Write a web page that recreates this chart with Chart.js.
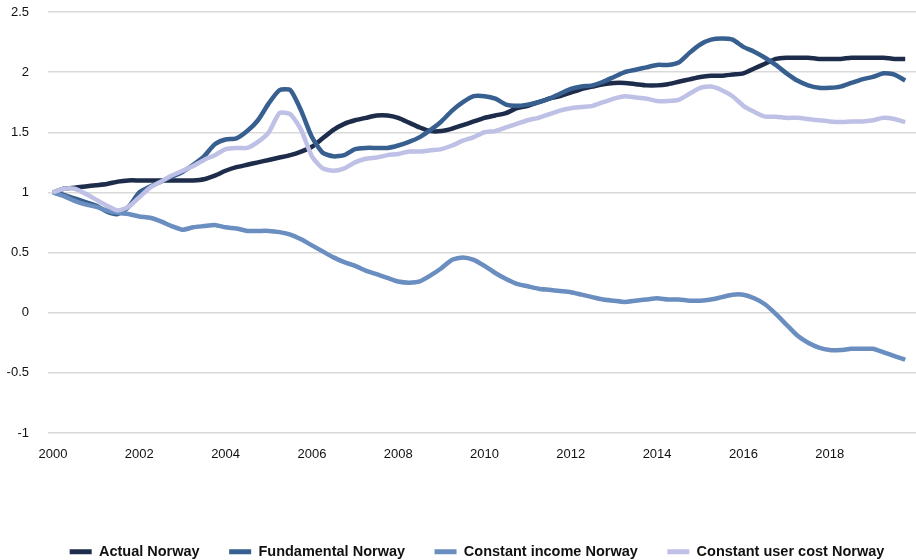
<!DOCTYPE html>
<html>
<head>
<meta charset="utf-8">
<script src="https://cdn.jsdelivr.net/npm/chart.js@4.4.1/dist/chart.umd.min.js"></script>
<style>
    html, body { margin: 0; padding: 0; background: #fff; }
    #wrap { width: 916px; height: 560px; }
</style>
</head>
<body>
<div id="wrap"><canvas id="housingChart" width="916" height="560"></canvas></div>
<script>
// Quarterly series, 2000Q1 - 2019Q4
const startYear = 2000;
const yearTicks = [2000, 2002, 2004, 2006, 2008, 2010, 2012, 2014, 2016, 2018];
const yTicks = [-1, -0.5, 0, 0.5, 1, 1.5, 2, 2.5];

const actualNorway = [
    1.00, 1.03, 1.04, 1.05, 1.06, 1.07, 1.09, 1.10, 1.10, 1.10,
    1.10, 1.10, 1.10, 1.10, 1.11, 1.14, 1.18, 1.21, 1.23, 1.25,
    1.27, 1.29, 1.31, 1.34, 1.38, 1.45, 1.52, 1.57, 1.60, 1.62,
    1.64, 1.64, 1.62, 1.58, 1.54, 1.51, 1.51, 1.53, 1.56, 1.59,
    1.62, 1.64, 1.66, 1.70, 1.72, 1.75, 1.78, 1.80, 1.83, 1.86,
    1.88, 1.90, 1.91, 1.91, 1.90, 1.89, 1.89, 1.90, 1.92, 1.94,
    1.96, 1.97, 1.97, 1.98, 1.99, 2.03, 2.07, 2.11, 2.12, 2.12,
    2.12, 2.11, 2.11, 2.11, 2.12, 2.12, 2.12, 2.12, 2.11, 2.11
];

const fundamentalNorway = [
    1.00, 0.98, 0.95, 0.92, 0.89, 0.84, 0.82, 0.88, 1.00, 1.05,
    1.09, 1.13, 1.17, 1.23, 1.30, 1.40, 1.44, 1.45, 1.51, 1.60,
    1.74, 1.85, 1.85, 1.68, 1.46, 1.33, 1.30, 1.31, 1.36, 1.37,
    1.37, 1.37, 1.39, 1.42, 1.46, 1.52, 1.59, 1.68, 1.75, 1.80,
    1.80, 1.78, 1.73, 1.72, 1.73, 1.75, 1.78, 1.82, 1.86, 1.88,
    1.89, 1.92, 1.96, 2.00, 2.02, 2.04, 2.06, 2.06, 2.08, 2.16,
    2.23, 2.27, 2.28, 2.27, 2.21, 2.17, 2.12, 2.06, 1.99, 1.93,
    1.89, 1.87, 1.87, 1.88, 1.91, 1.94, 1.96, 1.99, 1.98, 1.93
];

const constantIncomeNorway = [
    1.00, 0.97, 0.93, 0.90, 0.88, 0.85, 0.83, 0.82, 0.80, 0.79,
    0.76, 0.72, 0.69, 0.71, 0.72, 0.73, 0.71, 0.70, 0.68, 0.68,
    0.68, 0.67, 0.65, 0.61, 0.56, 0.51, 0.46, 0.42, 0.39, 0.35,
    0.32, 0.29, 0.26, 0.25, 0.26, 0.31, 0.37, 0.44, 0.46, 0.44,
    0.39, 0.33, 0.28, 0.24, 0.22, 0.20, 0.19, 0.18, 0.17, 0.15,
    0.13, 0.11, 0.10, 0.09, 0.10, 0.11, 0.12, 0.11, 0.11, 0.10,
    0.10, 0.11, 0.13, 0.15, 0.15, 0.12, 0.07, -0.01, -0.10, -0.19,
    -0.25, -0.29, -0.31, -0.31, -0.30, -0.30, -0.30, -0.33, -0.36, -0.39
];

const constantUserCostNorway = [
    1.00, 1.03, 1.03, 0.99, 0.94, 0.89, 0.85, 0.88, 0.96, 1.04,
    1.09, 1.14, 1.18, 1.22, 1.27, 1.31, 1.36, 1.37, 1.37, 1.42,
    1.50, 1.66, 1.65, 1.52, 1.30, 1.20, 1.18, 1.20, 1.25, 1.28,
    1.29, 1.31, 1.32, 1.34, 1.34, 1.35, 1.36, 1.39, 1.43, 1.46,
    1.50, 1.51, 1.54, 1.57, 1.60, 1.62, 1.65, 1.68, 1.70, 1.71,
    1.72, 1.75, 1.78, 1.80, 1.79, 1.78, 1.76, 1.76, 1.77, 1.82,
    1.87, 1.88, 1.85, 1.80, 1.72, 1.67, 1.63, 1.63, 1.62, 1.62,
    1.61, 1.60, 1.59, 1.585, 1.59, 1.59, 1.60, 1.62, 1.61, 1.585
];

const seriesNames = ['Actual Norway', 'Fundamental Norway', 'Constant income Norway', 'Constant user cost Norway'];
const seriesColors = ['#1d2c4a', '#375f8f', '#6a8ec0', '#bec0e6'];

function toPoints(values) {
    return values.map((v, i) => ({ x: startYear + i / 4, y: v }));
}

const allSeries = [actualNorway, fundamentalNorway, constantIncomeNorway, constantUserCostNorway];

const fontFamily = "'Liberation Sans', Arial, sans-serif";

// the original legend sits a bit right of centre
const legendShift = {
    id: 'legendShift',
    afterLayout(chart) {
        if (chart.legend) chart.legend.left += 38;
    }
};

new Chart(document.getElementById('housingChart'), {
    type: 'line',
    data: {
        datasets: allSeries.map((values, i) => ({
            label: seriesNames[i],
            data: toPoints(values),
            borderColor: seriesColors[i],
            backgroundColor: seriesColors[i],
            borderWidth: 4.5,
            pointRadius: 0,
            tension: 0.2,
            // later series drawn on top, as in the original
            order: allSeries.length - i
        }))
    },
    plugins: [legendShift],
    options: {
        responsive: false,
        animation: false,
        layout: { padding: { top: 12, left: 0, right: 0, bottom: 0 } },
        plugins: {
            tooltip: { enabled: false },
            legend: {
                position: 'bottom',
                maxHeight: 45,
                labels: {
                    boxWidth: 22,
                    boxHeight: 5,
                    padding: 29.5,
                    color: '#111',
                    font: { family: fontFamily, size: 14.5, weight: 'bold' },
                    sort: (a, b) => a.datasetIndex - b.datasetIndex,
                    generateLabels: function(chart) {
                        const items = Chart.defaults.plugins.legend.labels.generateLabels(chart);
                        items.forEach(item => { item.lineWidth = 0; });
                        return items;
                    }
                }
            }
        },
        scales: {
            x: {
                type: 'linear',
                min: 1999.884,
                max: 2020,
                grid: { display: false },
                border: { display: false },
                afterFit: function(scale) { scale.height = 82; },
                afterBuildTicks: function(scale) {
                    scale.ticks = yearTicks.map(v => ({ value: v }));
                },
                ticks: {
                    padding: 6,
                    maxRotation: 0,
                    autoSkip: false,
                    color: '#111',
                    font: { family: fontFamily, size: 13 },
                    callback: v => String(v)
                }
            },
            y: {
                min: -1,
                max: 2.5,
                afterFit: function(scale) { scale.width = 48; },
                afterBuildTicks: function(scale) {
                    scale.ticks = yTicks.map(v => ({ value: v }));
                },
                grid: {
                    color: '#d9d9d9',
                    lineWidth: 1.5,
                    drawTicks: true,
                    tickLength: 19,
                    tickColor: 'rgba(0,0,0,0)'
                },
                border: { display: false },
                ticks: {
                    padding: 0,
                    color: '#111',
                    font: { family: fontFamily, size: 13 },
                    callback: v => String(v)
                }
            }
        }
    }
});
</script>
</body>
</html>
